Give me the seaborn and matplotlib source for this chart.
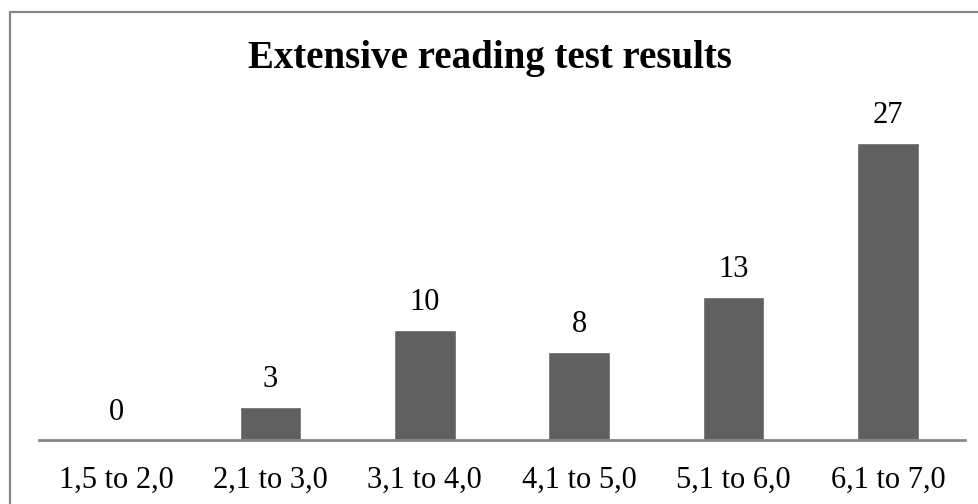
import matplotlib
matplotlib.use("Agg")
import matplotlib.pyplot as plt
import seaborn as sns
import pandas as pd
from matplotlib.patches import Rectangle

categories = ["1,5 to 2,0", "2,1 to 3,0", "3,1 to 4,0", "4,1 to 5,0", "5,1 to 6,0", "6,1 to 7,0"]
counts = [0, 3, 10, 8, 13, 27]
title = "Extensive reading test results"

df = pd.DataFrame({"range": categories, "count": counts})

sns.set_theme(style="white")
plt.rcParams["font.family"] = ["Liberation Serif", "DejaVu Serif"]

fig = plt.figure(figsize=(9.79, 5.04), dpi=100)
ax = fig.add_axes([39 / 979, 64.5 / 504, 926 / 979, 330 / 504])

sns.barplot(data=df, x="range", y="count", color="#606060", width=0.4,
            saturation=1, ax=ax)

ax.set_xlim(-0.5, len(categories) - 0.5)
ax.set_ylim(0, 30)
ax.set_xlabel("")
ax.set_ylabel("")
ax.set_yticks([])
for side in ("left", "right", "top"):
    ax.spines[side].set_visible(False)
ax.spines["bottom"].set_color("#868686")
ax.spines["bottom"].set_linewidth(2)
ax.tick_params(axis="x", length=0, pad=19, labelsize=22, labelcolor="black")

for i, v in enumerate(counts):
    ax.annotate(str(v), xy=(i, v), xytext=(0, 13.7), textcoords="offset points",
                ha="center", va="baseline", fontsize=22, color="black")

fig.text(0.5, (504 - 68) / 504, title, ha="center", va="baseline",
         fontsize=28, fontweight="bold", color="black")

# outer frame of the chart area
fig.patches.append(Rectangle((9.5 / 979, -0.1), 1.2, (504 - 11.5) / 504 + 0.1,
                             transform=fig.transFigure, fill=False,
                             edgecolor="#868686", linewidth=1.6))

fig.savefig("out.png", dpi=100)
